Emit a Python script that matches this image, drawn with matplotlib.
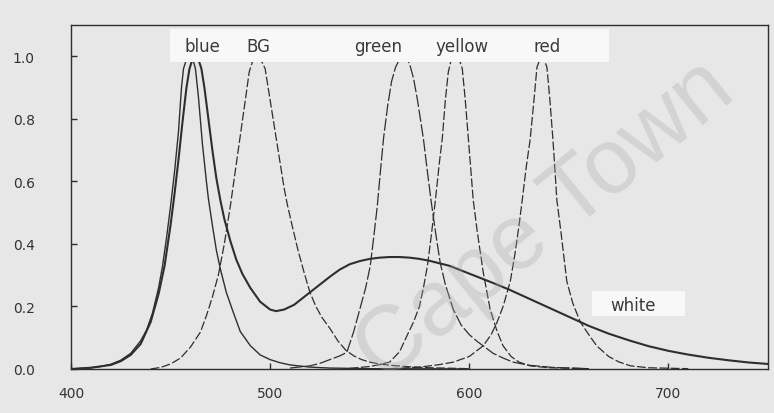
import matplotlib.pyplot as plt

# ======================= Data =======================

blue_nm = [400, 410, 415, 420, 425, 430, 435, 438, 441, 444, 446, 448, 450, 452, 454,
           455.5, 456.5, 458, 459.3, 461, 462.5, 464, 466, 468, 469, 471, 473, 475, 478,
           481, 485, 490, 495, 500, 505, 510, 520, 530, 550, 600]
blue_val = [0.0, 0.004, 0.008, 0.015, 0.028, 0.05, 0.09, 0.125, 0.18, 0.26, 0.33, 0.42, 0.52, 0.63, 0.76,
            0.9, 0.96, 0.99, 1.0, 0.995, 0.96, 0.87, 0.72, 0.6, 0.545, 0.46, 0.38, 0.32, 0.245,
            0.19, 0.12, 0.075, 0.045, 0.03, 0.02, 0.013, 0.006, 0.003, 0.001, 0.0]

white_nm = [400, 410, 420, 425, 430, 435, 440, 444, 447, 450, 452, 454, 456, 458, 459.5,
            461, 462.5, 464, 465.5, 467, 469, 471, 473, 475, 477, 480, 483, 486, 490,
            495, 500, 503, 507, 512, 516, 520, 525, 530, 535, 540, 545, 550, 555, 560, 565,
            570, 575, 580, 590, 600, 610, 620, 630, 640, 650, 660, 670, 680, 690, 700, 710,
            720, 730, 740, 750]
white_val = [0.0, 0.004, 0.013, 0.025, 0.045, 0.08, 0.15, 0.24, 0.33, 0.46, 0.56, 0.67, 0.79, 0.9, 0.96,
             0.99, 1.0, 0.99, 0.96, 0.9, 0.8, 0.7, 0.61, 0.54, 0.48, 0.41, 0.35, 0.305, 0.26,
             0.215, 0.19, 0.185, 0.19, 0.205, 0.225, 0.245, 0.27, 0.295, 0.318, 0.335, 0.345, 0.352, 0.356, 0.358, 0.358,
             0.356, 0.352, 0.346, 0.33, 0.305, 0.28, 0.254, 0.225, 0.196, 0.167, 0.138, 0.113, 0.092, 0.073, 0.058, 0.046,
             0.036, 0.028, 0.021, 0.016]

bg_nm = [440, 445, 450, 455, 460, 465, 468, 471, 474, 477, 480, 482, 484, 486, 488, 489.5,
         491, 493.5, 496, 497.5, 499, 501, 503, 505, 507, 508.5, 511, 514, 517, 520, 523, 526,
         530, 534, 538, 542, 546, 550, 555, 560, 570, 580, 600]
bg_val = [0.0, 0.005, 0.016, 0.035, 0.07, 0.118, 0.17, 0.23, 0.3, 0.4, 0.52, 0.61, 0.7, 0.79, 0.88, 0.95,
          0.98, 1.0, 0.98, 0.96, 0.9, 0.82, 0.74, 0.66, 0.58, 0.53, 0.46, 0.38, 0.31, 0.245, 0.2, 0.165,
          0.13, 0.09, 0.06, 0.042, 0.03, 0.022, 0.016, 0.012, 0.007, 0.004, 0.001]

green_nm = [510, 520, 525, 530, 535, 538.5, 542, 545, 548, 550.3, 552, 553.8, 555.5, 557, 559,
            561, 563, 565, 567, 569, 570.5, 572, 574, 577, 579, 581, 583, 585.4, 588, 592,
            596, 600, 604, 607, 612, 617, 622, 630, 642, 660]
green_val = [0.003, 0.01, 0.018, 0.03, 0.042, 0.053, 0.12, 0.19, 0.26, 0.33, 0.42, 0.52, 0.64, 0.74, 0.84,
             0.92, 0.965, 0.99, 1.0, 0.99, 0.965, 0.93, 0.86, 0.735, 0.63, 0.53, 0.44, 0.34, 0.27, 0.19,
             0.14, 0.11, 0.088, 0.074, 0.05, 0.035, 0.022, 0.012, 0.005, 0.001]

yellow_nm = [540, 550, 555, 560, 565, 569, 572, 575, 577, 579, 581, 583, 585, 586.5, 588,
             589.5, 591, 593, 595, 596.5, 598, 599.5, 601, 602, 604, 607, 610.5, 614, 617,
             621, 625, 630.6, 640, 660]
yellow_val = [0.002, 0.008, 0.014, 0.022, 0.055, 0.11, 0.15, 0.2, 0.26, 0.33, 0.43, 0.54, 0.66, 0.74, 0.86,
              0.95, 0.99, 1.0, 0.99, 0.96, 0.86, 0.74, 0.62, 0.54, 0.44, 0.31, 0.19, 0.12, 0.074,
              0.04, 0.022, 0.01, 0.004, 0.001]

red_nm = [560, 575, 585, 592, 600, 607, 611, 614, 617, 620.6, 623, 625, 626.6, 628.5, 630.6,
          632.5, 634, 635.5, 636.5, 637.5, 639, 640.5, 642, 643, 644, 646, 649, 652, 655.8,
          660, 664, 670, 675, 681, 690, 710]
red_val = [0.001, 0.006, 0.014, 0.022, 0.04, 0.074, 0.11, 0.15, 0.2, 0.28, 0.37, 0.46, 0.54, 0.64, 0.735,
           0.86, 0.965, 0.99, 1.0, 0.99, 0.965, 0.86, 0.735, 0.64, 0.54, 0.44, 0.28, 0.21, 0.15,
           0.11, 0.074, 0.04, 0.023, 0.01, 0.004, 0.001]

top_labels = ["blue", "BG", "green", "yellow", "red"]
top_label_nm = [465.8, 494, 554.3, 596.5, 639.2]

x_ticks = [400, 500, 600, 700]
y_ticks = [0.0, 0.2, 0.4, 0.6, 0.8, 1.0]

# ======================= Figure =======================

bg = "#e7e7e7"
ink = "#2e2e2e"

fig = plt.figure(figsize=(7.74, 4.14), dpi=100, facecolor=bg)
ax = fig.add_axes([0.0917, 0.1063, 0.9005, 0.831], facecolor=bg)

ax.plot(blue_nm, blue_val, color=ink, lw=1.0)
ax.plot(white_nm, white_val, color=ink, lw=1.5)
ax.plot(bg_nm, bg_val, color=ink, lw=0.9, dashes=(7, 2))
ax.plot(green_nm, green_val, color=ink, lw=0.9, dashes=(10, 2))
ax.plot(yellow_nm, yellow_val, color=ink, lw=0.9, dashes=(7, 2))
ax.plot(red_nm, red_val, color=ink, lw=0.9, dashes=(7, 2))

ax.set_xlim(400, 750)
ax.set_ylim(0, 1.1)

# label strip along the top, covers the peak tips
ax.add_patch(plt.Rectangle((449.7, 0.98), 220.3, 0.106, facecolor="#f8f8f8",
                           edgecolor="none", zorder=3))
for lab, xn in zip(top_labels, top_label_nm):
    ax.text(xn, 1.032, lab, ha="center", va="center", fontsize=12,
            color="#3a3a3a", zorder=4)

ax.add_patch(plt.Rectangle((661.8, 0.169), 46.7, 0.08, facecolor="#f8f8f8",
                           edgecolor="none", zorder=3))
ax.text(682.4, 0.206, "white", ha="center", va="center", fontsize=12,
        color="#3a3a3a", zorder=4)

ax.set_xticks(x_ticks)
ax.set_xticklabels([str(t) for t in x_ticks])
ax.set_yticks(y_ticks)
ax.set_yticklabels([f"{t:.1f}" for t in y_ticks])
ax.tick_params(direction="in", length=4, width=1, color=ink, labelcolor="#333333",
               labelsize=10)
ax.tick_params(axis="y", pad=42)
ax.tick_params(axis="x", pad=12)
for lab in ax.get_yticklabels():
    lab.set_horizontalalignment("left")

for s in ax.spines.values():
    s.set_color(ink)
    s.set_linewidth(1.0)

# scanned watermark
fig.text(0.705, 0.465, "Cape Town", rotation=39, ha="center", va="center",
         fontsize=66, family="Liberation Sans", color="#a8a8a8", alpha=0.32,
         zorder=10)

fig.savefig("out.png", dpi=100, facecolor=bg)
